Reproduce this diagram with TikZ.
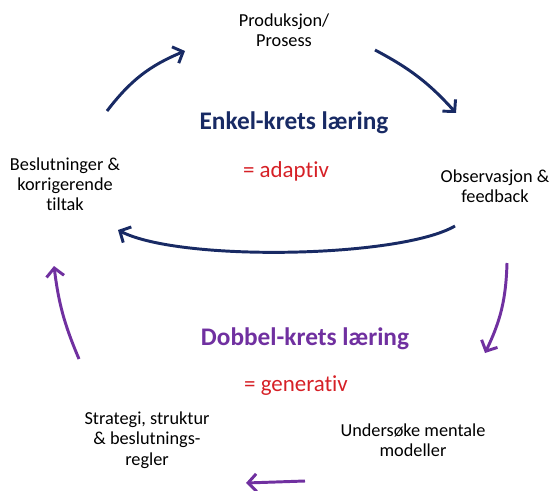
\documentclass[tikz,border=0pt]{standalone}
\usepackage{fontspec}
\setmainfont{Carlito}[Ligatures={TeX,NoCommon}]
\usetikzlibrary{arrows.meta,positioning}
\definecolor{enkblue}{RGB}{24,42,100}
\definecolor{dobpurple}{RGB}{112,48,160}
\definecolor{eqred}{RGB}{214,32,38}
\tikzset{
  stage/.style={align=center, font=\fontsize{13}{14.4}\selectfont, inner sep=0pt},
  loopttl/.style={font=\fontsize{18}{20}\selectfont\bfseries, inner sep=0pt},
  loopeq/.style={font=\fontsize{16.3}{18}\selectfont, text=eqred, inner sep=0pt},
  enkarr/.style={-{Straight Barb[length=2.1mm, width=4.4mm]}, enkblue, line width=2.1pt},
  dobarr/.style={-{Straight Barb[length=2.1mm, width=4.4mm]}, dobpurple, line width=2.1pt},
}

\begin{document}
\begin{tikzpicture}[x=0.025cm, y=-0.025cm]
  \useasboundingbox (0,0) rectangle (550,491);
  % stages of the loops
  \node[stage] (prod) at (284,30) {Produksjon/\\Prosess};
  \node[stage] (obs) at (495,186) {Observasjon \&\\feedback};
  \node[stage] (besl) at (65,184) {Beslutninger \&\\korrigerende\\tiltak};
  \node[stage] (strat) at (147,440) {Strategi, struktur\\\& beslutnings-\\regler};
  \node[stage] (unders) at (413,440) {Undersøke mentale\\modeller};
  % titles
  \node[loopttl, text=enkblue] (enk) at (294,123) {Enkel-krets læring};
  \node[loopeq] (adapt) at (286,171) {= adaptiv};
  \node[loopttl, text=dobpurple] (dob) at (305,339) {Dobbel-krets læring};
  \node[loopeq] (gener) at (296,386) {= generativ};
  % arrow ends
  \coordinate (e1a) at (107,111); \coordinate (e1b) at (185,51);
  \coordinate (e2a) at (375,50);  \coordinate (e2b) at (456,113);
  \coordinate (e3a) at (455,226); \coordinate (e3b) at (118,230);
  \coordinate (d1a) at (507,263); \coordinate (d1b) at (485,353);
  \coordinate (d2a) at (305,481); \coordinate (d2b) at (246,483);
  \coordinate (d3a) at (79,359);  \coordinate (d3b) at (54,266);
  % single loop
  \draw[enkarr] (e1a) to[bend left=15] (e1b);
  \draw[enkarr] (e2a) to[bend left=10] (e2b);
  \draw[enkarr] (e3a) .. controls (400,258) and (180,262) .. (e3b);
  % double loop
  \draw[dobarr] (d1a) to[bend left=12] (d1b);
  \draw[dobarr] (d2a) -- (d2b);
  \draw[dobarr] (d3a) to[bend left=8] (d3b);
\end{tikzpicture}
\end{document}
